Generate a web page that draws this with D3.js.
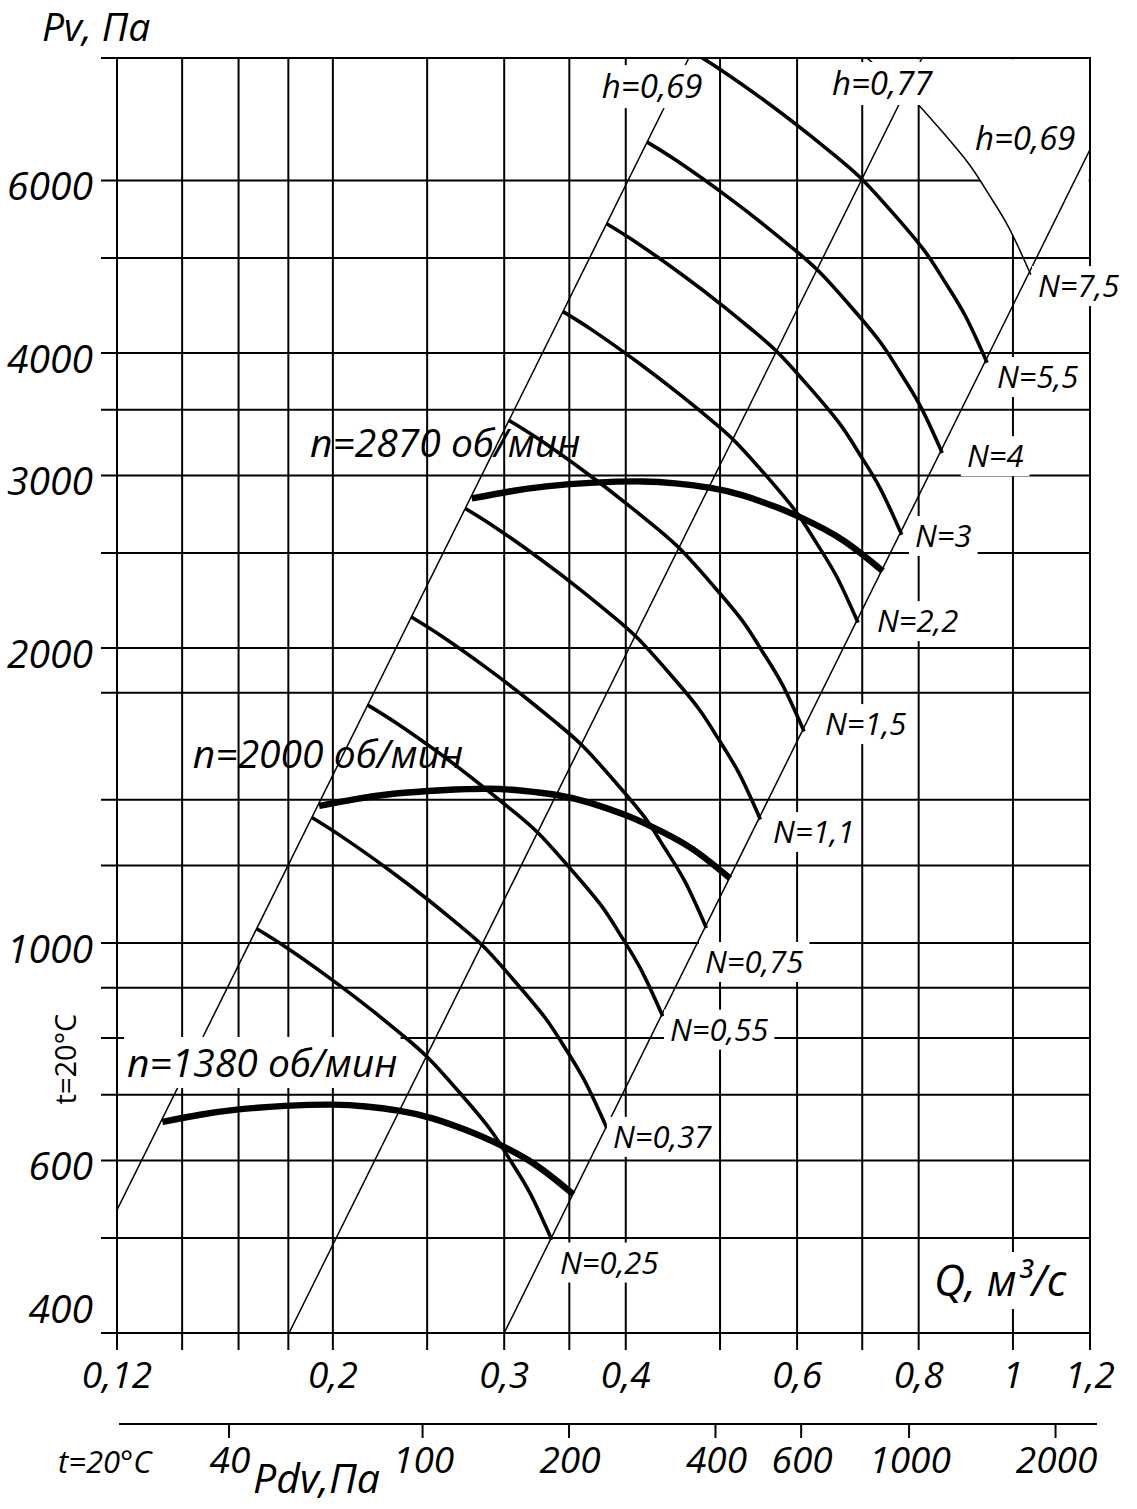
<!DOCTYPE html>
<html><head><meta charset="utf-8">
<script src="https://cdn.jsdelivr.net/npm/d3@7"></script>
<style>
html,body{margin:0;padding:0;background:#fff;}
svg text{font-family:"Open Sans","Noto Sans",sans-serif;fill:#000;}
</style></head><body>
<svg id="chart" width="1137" height="1509"></svg>
<script>
// ---------- axes / grid values ----------
const qGrid = [0.12, 0.14, 0.16, 0.18, 0.2, 0.25, 0.3, 0.35, 0.4, 0.5, 0.6, 0.7, 0.8, 1.0, 1.2];
const pvGrid = [400, 500, 600, 700, 800, 900, 1000, 1200, 1400, 1800, 2000, 2500, 3000, 3500, 4000, 5000, 6000, 8000];
const qTickLabels = [0.12, 0.2, 0.3, 0.4, 0.6, 0.8, 1, 1.2];
const pvTickLabels = [400, 600, 1000, 2000, 3000, 4000, 6000];
const pdvTicks = [40, 100, 200, 400, 600, 1000, 2000];
const pdvDomain = [23.6, 2360];

// ---------- fan pressure curves (Q m3/s, Pv Pa) ----------
const speedNames = ["n=1380 об/мин", "n=2000 об/мин", "n=2870 об/мин"];
const q1380 = [0.1336,0.1461,0.1593,0.1786,0.2003,0.2163,0.2344,0.2537,0.2745,0.2923,0.3213,0.3533];
const p1380 = [657,668,676,682,684,681,674,662,644,627,596,554];
const q2000 = [0.1936,0.2117,0.2309,0.2588,0.2903,0.3135,0.3397,0.3677,0.3978,0.4236,0.4657,0.5120];
const p2000 = [1380,1403,1420,1432,1437,1430,1416,1390,1353,1317,1252,1164];
const q2870 = [0.2778,0.3038,0.3313,0.3714,0.4166,0.4498,0.4875,0.5276,0.5709,0.6079,0.6682,0.7348];
const p2870 = [2842,2889,2924,2950,2958,2945,2915,2863,2785,2712,2578,2396];
const speedLabelQ = [0.1229, 0.1436, 0.1895];
const speedLabelP = [730, 1509, 3133];

// ---------- power curves N, kW ----------
const powerNames = ["N=0,25","N=0,37","N=0,55","N=0,75","N=1,1","N=1,5","N=2,2","N=3","N=4","N=5,5","N=7,5"];
const qN025 = [0.1670,0.1793,0.2003,0.2203,0.2363,0.2511,0.2702,0.2900,0.3041,0.3188,0.3357];
const pN025 = [1034,989,915,851,804,762,703,646,601,556,498];
const qN037 = [0.1903,0.2043,0.2283,0.2511,0.2693,0.2862,0.3079,0.3305,0.3466,0.3633,0.3826];
const pN037 = [1343,1284,1188,1105,1044,990,913,839,781,722,647];
const qN055 = [0.2172,0.2332,0.2605,0.2865,0.3073,0.3266,0.3514,0.3772,0.3955,0.4146,0.4366];
const pN055 = [1749,1673,1548,1439,1360,1289,1189,1093,1017,940,842];
const qN075 = [0.2408,0.2586,0.2889,0.3177,0.3408,0.3621,0.3897,0.4182,0.4386,0.4598,0.4841];
const pN075 = [2151,2057,1903,1770,1672,1585,1462,1344,1250,1157,1036];
const qN11 = [0.2736,0.2938,0.3282,0.3610,0.3872,0.4115,0.4428,0.4752,0.4983,0.5224,0.5501];
const pN11 = [2776,2655,2457,2285,2159,2046,1888,1735,1614,1493,1337];
const qN15 = [0.3035,0.3258,0.3640,0.4003,0.4294,0.4563,0.4910,0.5270,0.5526,0.5793,0.6100];
const pN15 = [3414,3266,3021,2810,2655,2516,2321,2133,1984,1836,1644];
const qN22 = [0.3448,0.3702,0.4135,0.4548,0.4879,0.5184,0.5579,0.5987,0.6278,0.6582,0.6931];
const pN22 = [4408,4216,3900,3627,3427,3248,2997,2754,2562,2370,2123];
const qN3 = [0.3823,0.4105,0.4586,0.5044,0.5410,0.5749,0.6186,0.6639,0.6962,0.7299,0.7686];
const pN3 = [5420,5184,4796,4461,4214,3994,3685,3386,3150,2914,2610];
const qN4 = [0.4208,0.4518,0.5047,0.5551,0.5954,0.6327,0.6809,0.7307,0.7663,0.8033,0.8459];
const pN4 = [6565,6280,5810,5403,5105,4838,4464,4102,3816,3530,3162];
const qN55 = [0.4680,0.5024,0.5613,0.6173,0.6622,0.7036,0.7572,0.8126,0.8522,0.8933,0.9407];
const pN55 = [8119,7766,7185,6682,6313,5983,5520,5073,4719,4366,3910];
const qN75 = [0.5189,0.5571,0.6224,0.6845,0.7342,0.7802,0.8396,0.9011,0.9449,0.9906,1.0431];
const pN75 = [9983,9549,8834,8216,7763,7357,6787,6237,5803,5368,4808];
const powerLabelQ = [0.3424,0.388,0.4441,0.4825,0.5669,0.641,0.7248,0.793,0.8967,0.9629,1.061];
const powerLabelP = [460,618,795,932,1265,1630,2076,2536,3059,3684,4562];

// ---------- efficiency lines ----------
const effNames = ["h=0,69", "h=0,77", "h=0,69"];
const effQ = [[0.12, 0.4644], [0.1803, 0.8065], [0.30, 1.2]];
const effP = [[534, 8000], [400, 8000], [400, 6450]];
const effLabelQ = [0.378, 0.6516, 0.914];
const effLabelP = [7280, 7333, 6445];

// ---------- build ----------
const zip = (a, b) => a.map((v, i) => [v, b[i]]);
const speedCurves = [zip(q1380,p1380), zip(q2000,p2000), zip(q2870,p2870)];
const powerCurves = [zip(qN025,pN025), zip(qN037,pN037), zip(qN055,pN055), zip(qN075,pN075),
  zip(qN11,pN11), zip(qN15,pN15), zip(qN22,pN22), zip(qN3,pN3), zip(qN4,pN4), zip(qN55,pN55), zip(qN75,pN75)];

const svg = d3.select("#chart");
const x = d3.scaleLog().domain([0.12, 1.2]).range([117, 1090]);
const y = d3.scaleLog().domain([400, 8000]).range([1333, 58]);
const xPdv = d3.scaleLog().domain(pdvDomain).range([117, 1090]);
const comma = v => String(v).replace(".", ",");

const X0 = x(0.12), X1 = x(1.2), Y0 = y(400), Y1 = y(8000);

const defs = svg.append("defs");
defs.append("clipPath").attr("id", "plot").append("rect")
  .attr("x", X0).attr("y", Y1).attr("width", X1 - X0).attr("height", Y0 - Y1);
defs.append("clipPath").attr("id", "tr").append("rect")
  .attr("x", X0).attr("y", Y1 + 1.3).attr("width", X1 - 1.3 - X0).attr("height", y(5000) - 1.3 - Y1 - 1.3);

// grid
const grid = svg.append("g").attr("stroke", "#000").attr("stroke-width", 2);
grid.selectAll(".h").data(pvGrid).join("line")
  .attr("x1", X0 - 16).attr("x2", X1).attr("y1", d => y(d)).attr("y2", d => y(d));
grid.selectAll(".v").data(qGrid).join("line")
  .attr("x1", d => x(d)).attr("x2", d => x(d)).attr("y1", Y1 - 1).attr("y2", Y0 + 17);

// white region above the N=7,5 curve
const lineGen = d3.line().x(d => x(d[0])).y(d => y(d[1])).curve(d3.curveNatural);
const c75 = powerCurves[10];
svg.append("path").attr("clip-path", "url(#tr)").attr("fill", "#fff")
  .attr("d", lineGen(c75) + `L${X1 + 60},${y(c75[c75.length-1][1])}L${X1 + 60},${Y1 - 80}L${x(c75[0][0])},${Y1 - 80}Z`);

// y tick labels
svg.append("g").selectAll("text").data(pvTickLabels).join("text")
  .attr("x", 93).attr("y", (d, i) => i === 0 ? y(d) - 10 : y(d) + 20)
  .attr("text-anchor", "end").style("font-size", "39px").style("font-style", "italic")
  .text(d => d);

// Q tick labels
svg.append("g").selectAll("text").data(qTickLabels).join("text")
  .attr("x", d => x(d)).attr("y", 1388).attr("text-anchor", "middle")
  .style("font-size", "37px").style("font-style", "italic").text(d => comma(d));

// Pdv axis
const pdvAxis = d3.axisBottom(xPdv).tickValues(pdvTicks).tickSizeInner(14).tickSizeOuter(0).tickFormat(d => d);
const pa = svg.append("g").attr("transform", "translate(0,1424)").call(pdvAxis);
pa.select(".domain").attr("stroke-width", 2.2).attr("d", `M${X0 + 2},0H${X1 + 7}`);
pa.selectAll(".tick line").attr("stroke-width", 2);
pa.selectAll(".tick text").attr("y", 49).attr("dx", 1).attr("dy", 0)
  .style("font-size", "37px").style("font-style", "italic").style("font-family", "'Open Sans',sans-serif");

// efficiency lines
const eff = svg.append("g").attr("clip-path", "url(#plot)");
effQ.forEach((qs, i) => {
  eff.append("path").attr("fill", "none").attr("stroke", "#000").attr("stroke-width", 1.5)
    .attr("d", d3.line().x(d => x(d[0])).y(d => y(d[1]))(zip(qs, effP[i])));
});

// power curves
const pw = svg.append("g").attr("clip-path", "url(#plot)");
powerCurves.forEach((c, i) => {
  pw.append("path").attr("fill", "none").attr("stroke", "#000")
    .attr("stroke-width", i === 10 ? 1.5 : 3.6).attr("d", lineGen(c));
});

// speed curves
const sp = svg.append("g");
speedCurves.forEach(c => {
  sp.append("path").attr("fill", "none").attr("stroke", "#000").attr("stroke-width", 6.4)
    .attr("d", lineGen(c));
});

// labels
const lab = svg.append("g");
function label(txt, px, py, size, bg, padX) {
  const g = lab.append("g");
  const t = g.append("text").attr("x", px).attr("y", py)
    .style("font-size", size + "px").style("font-style", "italic").text(txt);
  if (bg) {
    const b = t.node().getBBox();
    g.insert("rect", "text").attr("x", b.x - padX).attr("y", b.y + 2)
      .attr("width", b.width + 2 * padX).attr("height", b.height - 2).attr("fill", "#fff");
  }
  return t;
}
powerNames.forEach((n, i) => label(n, x(powerLabelQ[i]), y(powerLabelP[i]), 31, true, 6));
effNames.forEach((n, i) => label(n, x(effLabelQ[i]), y(effLabelP[i]), 33, true, 4));
speedNames.forEach((n, i) => label(n, x(speedLabelQ[i]), y(speedLabelP[i]), 39, i === 0, 3));

// titles
label("Pv, Па", 42, 41, 39, false, 0);
label("Q, м³/с", X1 - 156, 1296, 43, true, 6);
label("Pdv,Па", 253, 1493, 41, false, 0);
label("t=20°C", 58, 1473, 31, false, 0);
svg.append("text").attr("transform", `translate(76,1059) rotate(-90)`)
  .attr("text-anchor", "middle").style("font-size", "29px").text("t=20°C");
</script></body></html>
